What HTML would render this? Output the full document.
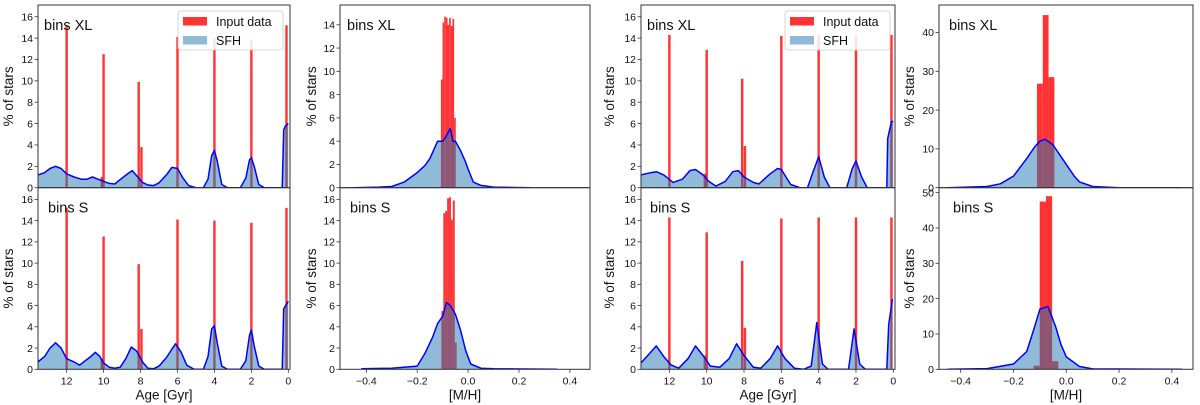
<!DOCTYPE html>
<html><head><meta charset="utf-8"><style>
html,body{margin:0;padding:0;background:#fff;}
svg{display:block;font-family:"Liberation Sans","DejaVu Sans",sans-serif;}
</style></head><body>
<svg id="fig" width="1200" height="405" xmlns="http://www.w3.org/2000/svg"></svg>
<script>
// ---- data ----
const ageRedCenters1 = [12, 10.1, 10, 8.1, 7.95, 6, 4, 2, 0.1];
const ageRedXL1 = [15.2, 1.0, 12.5, 9.9, 3.8, 14.1, 14.0, 13.8, 15.2];
const ageRedS1  = [15.2, 1.0, 12.5, 9.9, 3.8, 14.1, 14.0, 13.8, 15.2];
const sfhAgeXL1 = [13.55,13.2,12.9,12.6,12.3,12.0,11.6,11.2,10.9,10.6,10.3,10.0,9.7,9.4,9.0,8.7,8.45,8.2,7.9,7.6,7.3,7.0,6.6,6.3,6.0,5.7,5.4,5.0,4.6,4.35,4.15,4.0,3.85,3.6,3.3,2.6,2.3,2.1,2.0,1.85,1.6,1.3,0.4,0.33,0.25,0.15,0.0];
const sfhValXL1 = [1.2,1.4,1.8,2.0,1.8,1.3,1.0,0.8,0.8,1.0,0.8,0.6,0.4,0.35,0.9,1.3,1.6,1.1,0.5,0.25,0.2,0.45,1.2,1.9,1.8,0.9,0.2,0.0,0.0,0.8,3.0,3.5,2.5,0.3,0.0,0.0,0.9,2.6,2.8,2.0,0.3,0.0,0.0,0.0,5.4,5.8,6.0];
const sfhAgeS1 = [13.55,13.2,12.9,12.6,12.3,12.0,11.6,11.3,11.0,10.7,10.45,10.2,10.0,9.7,9.4,9.1,8.8,8.5,8.2,7.9,7.6,7.3,7.0,6.6,6.3,6.1,5.8,5.5,5.1,4.6,4.35,4.15,4.0,3.85,3.6,3.3,2.6,2.3,2.1,2.0,1.85,1.6,1.3,0.4,0.33,0.25,0.15,0.0];
const sfhValS1 = [0.7,1.2,2.0,2.5,2.0,1.0,0.7,0.4,0.8,1.2,1.6,1.2,0.6,0.2,0.1,0.2,1.0,2.1,1.7,0.7,0.1,0.05,0.3,1.1,1.9,2.4,1.6,0.4,0.0,0.0,1.2,3.8,4.1,2.5,0.3,0.0,0.0,0.8,3.2,3.7,2.2,0.3,0.0,0.0,0.0,5.7,6.0,6.4];
const ageRedXL3 = [14.3, 1.3, 12.9, 10.2, 3.9, 14.2, 14.3, 14.3, 14.3];
const ageRedS3  = [14.3, 1.3, 12.9, 10.2, 3.9, 14.2, 14.3, 14.3, 14.3];
const sfhAgeXL3 = [13.52,13.0,12.7,12.3,11.8,11.3,10.9,10.6,10.2,9.9,9.5,9.0,8.6,8.3,8.0,7.5,7.2,6.6,6.2,6.0,5.5,5.0,4.6,4.3,4.0,3.7,3.4,2.5,2.2,2.0,1.7,1.4,0.35,0.3,0.1,0.0];
const sfhValXL3 = [1.2,1.4,1.5,1.2,0.5,0.8,1.6,1.7,1.2,0.6,0.15,0.6,1.5,1.6,1.0,0.5,0.35,1.3,1.8,1.7,0.3,0.0,0.0,1.5,2.9,1.0,0.0,0.0,1.8,2.5,1.0,0.0,0.0,4.6,6.2,6.2];
const sfhAgeS3 = [13.52,13.0,12.7,12.3,11.9,11.5,11.0,10.6,10.2,9.8,9.3,8.8,8.4,8.0,7.5,7.1,6.6,6.2,5.8,5.3,4.8,4.4,4.1,3.8,3.5,2.4,2.1,1.8,1.5,0.35,0.25,0.05];
const sfhValS3 = [0.6,1.6,2.2,1.2,0.4,0.1,1.0,2.2,1.3,0.3,0.2,1.0,2.4,1.3,0.2,0.1,1.0,2.2,1.0,0.1,0.0,0.3,4.4,0.5,0.0,0.0,3.8,0.5,0.0,0.0,4.2,6.6];
// metallicity
const mhRedStartXL2 = -0.107, mhRedWidthXL2 = 0.0065;
const mhRedXL2 = [9.3,14.2,14.7,14.6,14.0,14.6,13.9,14.5,6.0];
const mhRedStartS2 = -0.105, mhRedWidthS2 = 0.0075;
const mhRedS2 = [5.5,14.7,14.9,16.1,16.2,14.1,15.9,2.5];
const sfhMhXL2 = [-0.45,-0.35,-0.3,-0.25,-0.2,-0.17,-0.15,-0.12,-0.1,-0.09,-0.08,-0.07,-0.06,-0.05,-0.04,-0.03,-0.01,0.0,0.02,0.05,0.1,0.25];
const sfhValXL2 = [0.0,0.05,0.1,0.5,1.3,1.9,2.5,4.0,4.0,4.3,4.7,5.1,4.0,4.0,3.6,3.2,2.2,1.6,0.5,0.2,0.05,0.0];
const sfhMhS2 = [-0.42,-0.3,-0.2,-0.17,-0.14,-0.12,-0.1,-0.085,-0.07,-0.05,-0.03,-0.01,0.01,0.05,0.1,0.35];
const sfhValS2 = [0.05,0.1,0.3,1.5,3.0,4.3,5.0,6.3,6.0,5.2,3.7,1.8,0.5,0.1,0.05,0.0];
const mhRedStartXL4 = -0.111, mhRedWidthXL4 = 0.022;
const mhRedXL4 = [26.8,44.5,28.5];
const mhRedStartS4 = -0.124, mhRedWidthS4 = 0.0235;
const mhRedS4 = [1.0,47.5,49.0,2.3];
const sfhMhXL4 = [-0.45,-0.3,-0.25,-0.2,-0.15,-0.12,-0.1,-0.08,-0.05,-0.02,0.0,0.03,0.05,0.1,0.2,0.44];
const sfhValXL4 = [0.0,0.3,1.0,3.0,7.5,10.5,12.0,12.5,11.0,8.0,6.0,3.0,1.5,0.3,0.0,0.0];
const sfhMhS4 = [-0.45,-0.3,-0.2,-0.15,-0.12,-0.1,-0.07,-0.055,-0.04,-0.02,0.0,0.05,0.1,0.44];
const sfhValS4 = [0.0,0.2,1.5,5.0,12.0,17.0,17.8,15.0,12.0,7.0,3.5,0.8,0.1,0.0];
const ageTicks = [12,10,8,6,4,2,0];
const mhTicks = [-0.4,-0.2,0.0,0.2,0.4];
const mhTickLabels = ["\u22120.4","\u22120.2","0.0","0.2","0.4"];

// ---- drawing ----
const NS = "http://www.w3.org/2000/svg";
const svg = document.getElementById('fig');
function mk(tag, attrs, parent){
  const e = document.createElementNS(NS, tag);
  for (const k in attrs) e.setAttribute(k, attrs[k]);
  (parent||svg).appendChild(e);
  return e;
}
function panel(o){
  const g = mk('g', {});
  
  
  const sx = v => o.x0 + (v - o.xmin) / (o.xmax - o.xmin) * (o.x1 - o.x0);
  const sy = v => o.y1 - (v - 0) / o.ymax * (o.y1 - o.y0);
  const clipId = 'c' + o.name;
  const cp = mk('clipPath', {id: clipId}, g);
  mk('rect', {x:o.x0, y:o.y0, width:o.x1-o.x0, height:o.y1-o.y0}, cp);
  const plot = mk('g', {'clip-path':'url(#'+clipId+')'}, g);
  o.red.forEach((v, i) => {
    let a, b;
    if (o.redCenters) { a = o.redCenters[i] - o.redW/2; b = o.redCenters[i] + o.redW/2; }
    else { a = o.redStart + i*o.redW; b = a + o.redW; }
    const xa = sx(a), xb = sx(b);
    const r = mk('rect', {x:Math.min(xa,xb), y:sy(v), width:Math.abs(xb-xa), height:sy(0)-sy(v), fill:'rgba(255,0,0,0.8)'}, plot);
    
    
  });
  let d = '';
  o.sx.forEach((v, i) => { d += (i ? 'L' : 'M') + sx(v).toFixed(1) + ',' + sy(o.sv[i]).toFixed(1); });
  const area = mk('path', {d: d + 'L' + sx(o.sx[o.sx.length-1]).toFixed(1) + ',' + sy(0) + 'L' + sx(o.sx[0]).toFixed(1) + ',' + sy(0) + 'Z', fill:'rgba(31,119,180,0.5)'}, plot);
  
  
  const line = mk('path', {d: d, fill:'none', stroke:'#0000ff', 'stroke-width':1.5, 'stroke-linejoin':'round'}, plot);
  
  
  mk('rect', {x:o.x0, y:o.y0, width:o.x1-o.x0, height:o.y1-o.y0, fill:'none', stroke:'#333', 'stroke-width':1}, g);
  for (let t = 0; t <= o.ymax + 1e-9; t += o.ystep) {
    const y = sy(t);
    mk('line', {x1:o.x0-3.5, x2:o.x0, y1:y, y2:y, stroke:'#333', 'stroke-width':0.8}, g);
    const tl = mk('text', {x:o.x0-5, y:y+3.7, 'font-size':10.5, 'text-anchor':'end', fill:'#111'}, g);
    tl.textContent = String(t);
    
    
  }
  if (o.xticks) {
    o.xticks.forEach((t, i) => {
      const x = sx(t);
      mk('line', {x1:x, x2:x, y1:o.y1, y2:o.y1+3.5, stroke:'#333', 'stroke-width':0.8}, g);
      const tl = mk('text', {x:x, y:o.y1+15, 'font-size':10.5, 'text-anchor':'middle', fill:'#111'}, g);
      tl.textContent = o.xlabels[i];
      
      
    });
    const xt = mk('text', {x:(o.x0+o.x1)/2, y:o.y1+30, 'font-size':13.5, 'text-anchor':'middle', fill:'#111'}, g);
    xt.textContent = o.xtitle;
    
    
  }
  const yc = (o.y0 + o.y1)/2;
  const yt = mk('text', {x:o.ylx, y:yc, 'font-size':13.5, 'text-anchor':'middle', fill:'#111', transform:'rotate(-90 '+o.ylx+' '+yc+')'}, g);
  yt.textContent = '% of stars';
  
  
  const pl = mk('text', {x:o.lx, y:o.y0+25, 'font-size':14.5, fill:'#111'}, g);
  pl.textContent = o.label;
  
  
  if (o.legend) {
    const lg = mk('g', {}, g);
    
    
    const L = o.legend;
    mk('rect', {x:L, y:o.y0+6, width:105, height:39, rx:3, fill:'rgba(255,255,255,0.85)', stroke:'#ccc', 'stroke-width':0.8}, lg);
    mk('rect', {x:L+5, y:o.y0+12, width:24, height:8.5, fill:'rgba(255,0,0,0.8)'}, lg);
    const t1 = mk('text', {x:L+38, y:o.y0+21, 'font-size':12.5, fill:'#111'}, lg);
    t1.textContent = 'Input data';
    
    
    mk('rect', {x:L+5, y:o.y0+31, width:24, height:8.5, fill:'rgba(31,119,180,0.5)'}, lg);
    const t2 = mk('text', {x:L+38, y:o.y0+40, 'font-size':12.5, fill:'#111'}, lg);
    t2.textContent = 'SFH';
    
    
  }
}
const T = 5, M = 187.7, B = 369.3;
const ageXlabels = ageTicks.map(String);
panel({name:'age-xl-1', x0:38, x1:290, xmin:13.55, xmax:-0.09, y0:T, y1:M, ymax:17.1, ystep:2,
  redCenters:ageRedCenters1, redW:0.13, red:ageRedXL1, sx:sfhAgeXL1, sv:sfhValXL1, ylx:13, lx:44, label:'bins XL', legend:178});
panel({name:'age-s-1', x0:38, x1:290, xmin:13.55, xmax:-0.09, y0:M, y1:B, ymax:17.1, ystep:2,
  redCenters:ageRedCenters1, redW:0.13, red:ageRedS1, sx:sfhAgeS1, sv:sfhValS1, ylx:13, lx:48, label:'bins S',
  xticks:ageTicks, xlabels:ageXlabels, xtitle:'Age [Gyr]'});
panel({name:'mh-xl-2', x0:340, x1:590, xmin:-0.5035, xmax:0.479, y0:T, y1:M, ymax:15.7, ystep:2,
  redStart:mhRedStartXL2, redW:mhRedWidthXL2, red:mhRedXL2, sx:sfhMhXL2, sv:sfhValXL2, ylx:316, lx:347, label:'bins XL'});
panel({name:'mh-s-2', x0:340, x1:590, xmin:-0.5035, xmax:0.479, y0:M, y1:B, ymax:17.1, ystep:2,
  redStart:mhRedStartS2, redW:mhRedWidthS2, red:mhRedS2, sx:sfhMhS2, sv:sfhValS2, ylx:316, lx:350, label:'bins S',
  xticks:mhTicks, xlabels:mhTickLabels, xtitle:'[M/H]'});
panel({name:'age-xl-3', x0:641, x1:895, xmin:13.52, xmax:-0.09, y0:T, y1:M, ymax:17.1, ystep:2,
  redCenters:ageRedCenters1, redW:0.13, red:ageRedXL3, sx:sfhAgeXL3, sv:sfhValXL3, ylx:614, lx:647, label:'bins XL', legend:785});
panel({name:'age-s-3', x0:641, x1:895, xmin:13.52, xmax:-0.09, y0:M, y1:B, ymax:17.1, ystep:2,
  redCenters:ageRedCenters1, redW:0.13, red:ageRedS3, sx:sfhAgeS3, sv:sfhValS3, ylx:614, lx:650, label:'bins S',
  xticks:ageTicks, xlabels:ageXlabels, xtitle:'Age [Gyr]'});
panel({name:'mh-xl-4', x0:939, x1:1193, xmin:-0.482, xmax:0.48, y0:T, y1:M, ymax:47.1, ystep:10,
  redStart:mhRedStartXL4, redW:mhRedWidthXL4, red:mhRedXL4, sx:sfhMhXL4, sv:sfhValXL4, ylx:914, lx:949, label:'bins XL'});
panel({name:'mh-s-4', x0:939, x1:1193, xmin:-0.482, xmax:0.48, y0:M, y1:B, ymax:51.4, ystep:10,
  redStart:mhRedStartS4, redW:mhRedWidthS4, red:mhRedS4, sx:sfhMhS4, sv:sfhValS4, ylx:914, lx:953, label:'bins S',
  xticks:mhTicks, xlabels:mhTickLabels, xtitle:'[M/H]'});
</script>
</body></html>
